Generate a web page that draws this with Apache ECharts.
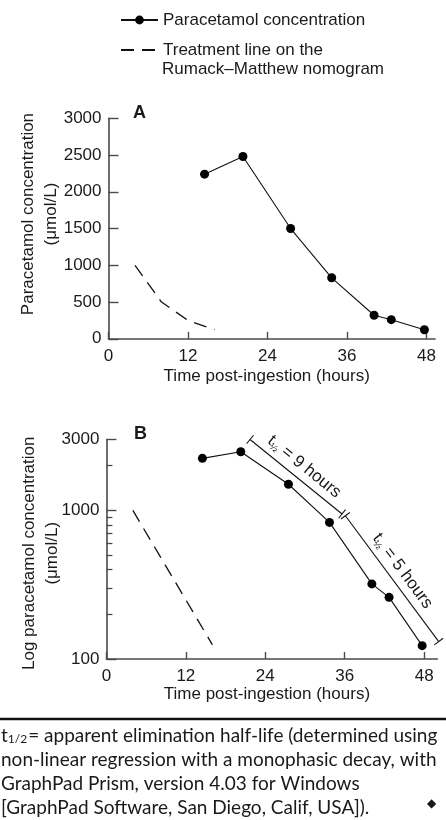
<!DOCTYPE html>
<html>
<head>
<meta charset="utf-8">
<script src="https://cdn.jsdelivr.net/npm/echarts@6.0.0/dist/echarts.min.js"></script>
<style>
  html, body { margin: 0; padding: 0; background: #fff; }
  #chart { width: 446px; height: 820px; }
</style>
</head>
<body>
<div id="chart"></div>
<script>
// measured paracetamol levels
const hours = [14.5, 20.3, 27.5, 33.7, 40.1, 42.7, 47.7];
const concentration = [2240, 2480, 1500, 830, 320, 260, 123];
// treatment line (Rumack-Matthew), halves every 4 h
const nomogramHours = [4, 8, 12, 16];
const nomogramLevel = [1000, 500, 250, 125];
// ticks
const timeTicks = [0, 12, 24, 36, 48];
const logLabels = [100, 1000, 3000];
const logMinor = [200, 300, 400, 500, 600, 700, 800, 900, 2000];
// half-life brackets drawn beside panel B
const halfLife9 = [[21.7, 3000], [35.6, 946]];
const halfLife5 = [[36.1, 921], [50.2, 131]];

const concName = "Paracetamol concentration";
const treatName = "Treatment line on the Rumack\u2013Matthew nomogram";
const font = "'Liberation Sans', Arial, Helvetica, sans-serif";
const footFont = "Lato, 'Open Sans', sans-serif";
const ink = "#1a1a1a";
const axisGray = "#4a4a4a";

const pairs = (xs, ys) => xs.map((x, i) => [x, ys[i]]);
const plain = (v) => String(v);

const chart = echarts.init(document.getElementById("chart"));

const xAxisBase = {
  type: "value",
  min: 0,
  nameLocation: "middle",
  name: "Time post-ingestion (hours)",
  nameTextStyle: { fontFamily: font, fontSize: 17, color: ink, padding: [0, 10, 0, 0] },
  axisLine: { lineStyle: { color: axisGray, width: 1.6 } },
  axisTick: { inside: true, length: 7, customValues: timeTicks, lineStyle: { color: axisGray, width: 1.4 } },
  axisLabel: { customValues: timeTicks, formatter: plain, fontFamily: font, fontSize: 17, color: ink, margin: 9 },
  splitLine: { show: false },
};

const option = {
  animation: false,
  backgroundColor: "#fff",
  title: [
    { text: "A", left: 133, top: 104, padding: 0, textStyle: { fontFamily: font, fontSize: 18, fontWeight: "bold", color: ink } },
    { text: "B", left: 134, top: 425, padding: 0, textStyle: { fontFamily: font, fontSize: 18, fontWeight: "bold", color: ink } },
  ],
  legend: {
    data: [concName, { name: treatName, itemStyle: { opacity: 0 } }],
    orient: "vertical",
    left: 120,
    top: 10,
    padding: 0,
    itemWidth: 37,
    itemHeight: 11,
    itemGap: 10,
    selectedMode: false,
    textStyle: { fontFamily: font, fontSize: 17, color: ink, lineHeight: 20 },
    formatter: (name) => (name === treatName ? "Treatment line on the" : name),
  },
  grid: [
    { left: 108.5, top: 118.3, width: 326.5, height: 220.5 },
    { left: 106.4, top: 439.5, width: 331, height: 219.5 },
  ],
  xAxis: [
    Object.assign({}, xAxisBase, { gridIndex: 0, max: 49.3, nameGap: 29 }),
    Object.assign({}, xAxisBase, { gridIndex: 1, max: 50, nameGap: 24 }),
  ],
  yAxis: [
    {
      gridIndex: 0,
      type: "value",
      min: 0,
      max: 3000,
      interval: 500,
      name: "Paracetamol concentration\n(\u03bcmol/L)",
      nameLocation: "middle",
      nameGap: 46,
      nameMoveOverlap: false,
      nameTextStyle: { fontFamily: font, fontSize: 17, color: ink, lineHeight: 23, padding: [0, 0, 0, 29] },
      axisLine: { show: true, lineStyle: { color: axisGray, width: 1.6 } },
      axisTick: { show: true, inside: true, length: 10, lineStyle: { color: axisGray, width: 1.4 } },
      axisLabel: { formatter: plain, fontFamily: font, fontSize: 17, color: ink, margin: 7 },
      splitLine: { show: false },
    },
    {
      gridIndex: 1,
      type: "log",
      logBase: 10,
      min: 100,
      max: 3000,
      position: "left",
      name: "Log paracetamol concentration\n(\u03bcmol/L)",
      nameLocation: "middle",
      nameGap: 43,
      nameMoveOverlap: false,
      nameTextStyle: { fontFamily: font, fontSize: 17, color: ink, lineHeight: 23, padding: [0, 8, 0, 0] },
      axisLine: { show: true, lineStyle: { color: axisGray, width: 1.6 } },
      axisTick: { show: true, inside: true, length: 10, customValues: logLabels, lineStyle: { color: axisGray, width: 1.4 } },
      axisLabel: { customValues: logLabels, formatter: plain, fontFamily: font, fontSize: 17, color: ink, margin: 7 },
      splitLine: { show: false },
    },
    {
      // minor ticks of the log axis
      gridIndex: 1,
      type: "log",
      logBase: 10,
      min: 100,
      max: 3000,
      position: "left",
      offset: 0,
      axisLine: { show: false },
      axisTick: { show: true, inside: true, length: 6, customValues: logMinor, lineStyle: { color: axisGray, width: 1.3 } },
      axisLabel: { show: false },
      splitLine: { show: false },
    },
  ],
  series: [
    {
      name: concName, type: "line", xAxisIndex: 0, yAxisIndex: 0,
      data: pairs(hours, concentration),
      symbol: "circle", symbolSize: 9,
      itemStyle: { color: "#000" },
      lineStyle: { color: "#111", width: 1.1 },
    },
    {
      name: treatName, type: "line", xAxisIndex: 0, yAxisIndex: 0,
      data: pairs(nomogramHours, nomogramLevel),
      showSymbol: false, symbol: "none",
      itemStyle: { color: "#000" },
      lineStyle: { color: "#111", width: 1.3, type: [13, 8] },
    },
    {
      name: concName, type: "line", xAxisIndex: 1, yAxisIndex: 1,
      data: pairs(hours, concentration),
      symbol: "circle", symbolSize: 9,
      itemStyle: { color: "#000" },
      lineStyle: { color: "#111", width: 1.1 },
    },
    {
      name: treatName, type: "line", xAxisIndex: 1, yAxisIndex: 1,
      data: pairs(nomogramHours, nomogramLevel),
      showSymbol: false, symbol: "none",
      itemStyle: { color: "#000" },
      lineStyle: { color: "#111", width: 1.3, type: [13, 8] },
    },
    {
      name: "t1/2 9 h", type: "line", xAxisIndex: 1, yAxisIndex: 1,
      data: halfLife9, symbol: "none", clip: false, silent: true,
      lineStyle: { color: "#111", width: 1.1 },
    },
    {
      name: "t1/2 5 h", type: "line", xAxisIndex: 1, yAxisIndex: 1,
      data: halfLife5, symbol: "none", clip: false, silent: true,
      lineStyle: { color: "#111", width: 1.1 },
    },
  ],
};

chart.setOption(option);

// brackets: end caps and rotated labels, placed with the axis scales
function bracket(seg, hrs) {
  const p0 = chart.convertToPixel({ xAxisIndex: 1, yAxisIndex: 1 }, seg[0]);
  const p1 = chart.convertToPixel({ xAxisIndex: 1, yAxisIndex: 1 }, seg[1]);
  const dx = p1[0] - p0[0], dy = p1[1] - p0[1];
  const len = Math.hypot(dx, dy);
  const nx = dy / len, ny = -dx / len;
  const cap = (p) => ({
    type: "line",
    silent: true,
    shape: { x1: p[0] - nx * 5.5, y1: p[1] - ny * 5.5, x2: p[0] + nx * 5.5, y2: p[1] + ny * 5.5 },
    style: { stroke: "#111", lineWidth: 1.1 },
  });
  const mx = (p0[0] + p1[0]) / 2 + nx * 13;
  const my = (p0[1] + p1[1]) / 2 + ny * 13;
  return [
    cap(p0),
    cap(p1),
    {
      type: "text",
      silent: true,
      x: mx, y: my,
      rotation: -Math.atan2(dy, dx),
      style: {
        text: "{t|t}{h|\u00bd}{n| = " + hrs + " hours}",
        align: "center",
        verticalAlign: "middle",
        rich: {
          t: { fontFamily: font, fontSize: 17, fill: ink, lineHeight: 20 },
          h: { fontFamily: font, fontSize: 10, fill: ink, lineHeight: 20, verticalAlign: "bottom", padding: [6, 0, 0, 0] },
          n: { fontFamily: font, fontSize: 17, fill: ink, lineHeight: 20 },
        },
      },
    },
  ];
}

const footLines = [
  "{t|t}{s|1/2}{n|= apparent elimination half-life (determined using}",
  "{n|non-linear regression with a monophasic decay, with}",
  "{n|GraphPad Prism, version 4.03 for Windows}",
  "{n|[GraphPad Software, San Diego, Calif, USA]).}",
];
const footRich = {
  t: { fontFamily: footFont, fontSize: 19, fill: ink },
  s: { fontFamily: footFont, fontSize: 12, fill: ink, padding: [8, 1, 0, 0] },
  n: { fontFamily: footFont, fontSize: 19, fill: ink },
};

const graphics = [
  {
    type: "text", left: 162, top: 61, silent: true,
    style: { text: "Rumack\u2013Matthew nomogram", fontFamily: font, fontSize: 17, fill: ink },
  },
  {
    type: "line", silent: true,
    shape: { x1: 0, y1: 719, x2: 446, y2: 719 },
    style: { stroke: "#111", lineWidth: 2.5 },
  },
  {
    type: "text", left: 427, top: 798, silent: true,
    style: { text: "\u25c6", fontFamily: "DejaVu Sans", fontSize: 12, fill: ink },
  },
]
  .concat(footLines.map((line, i) => ({
    type: "text", left: 1, top: 726 + i * 24, silent: true,
    style: { text: line, rich: footRich },
  })))
  .concat(bracket(halfLife9, 9))
  .concat(bracket(halfLife5, 5));

chart.setOption({ graphic: graphics });
</script>
</body>
</html>
